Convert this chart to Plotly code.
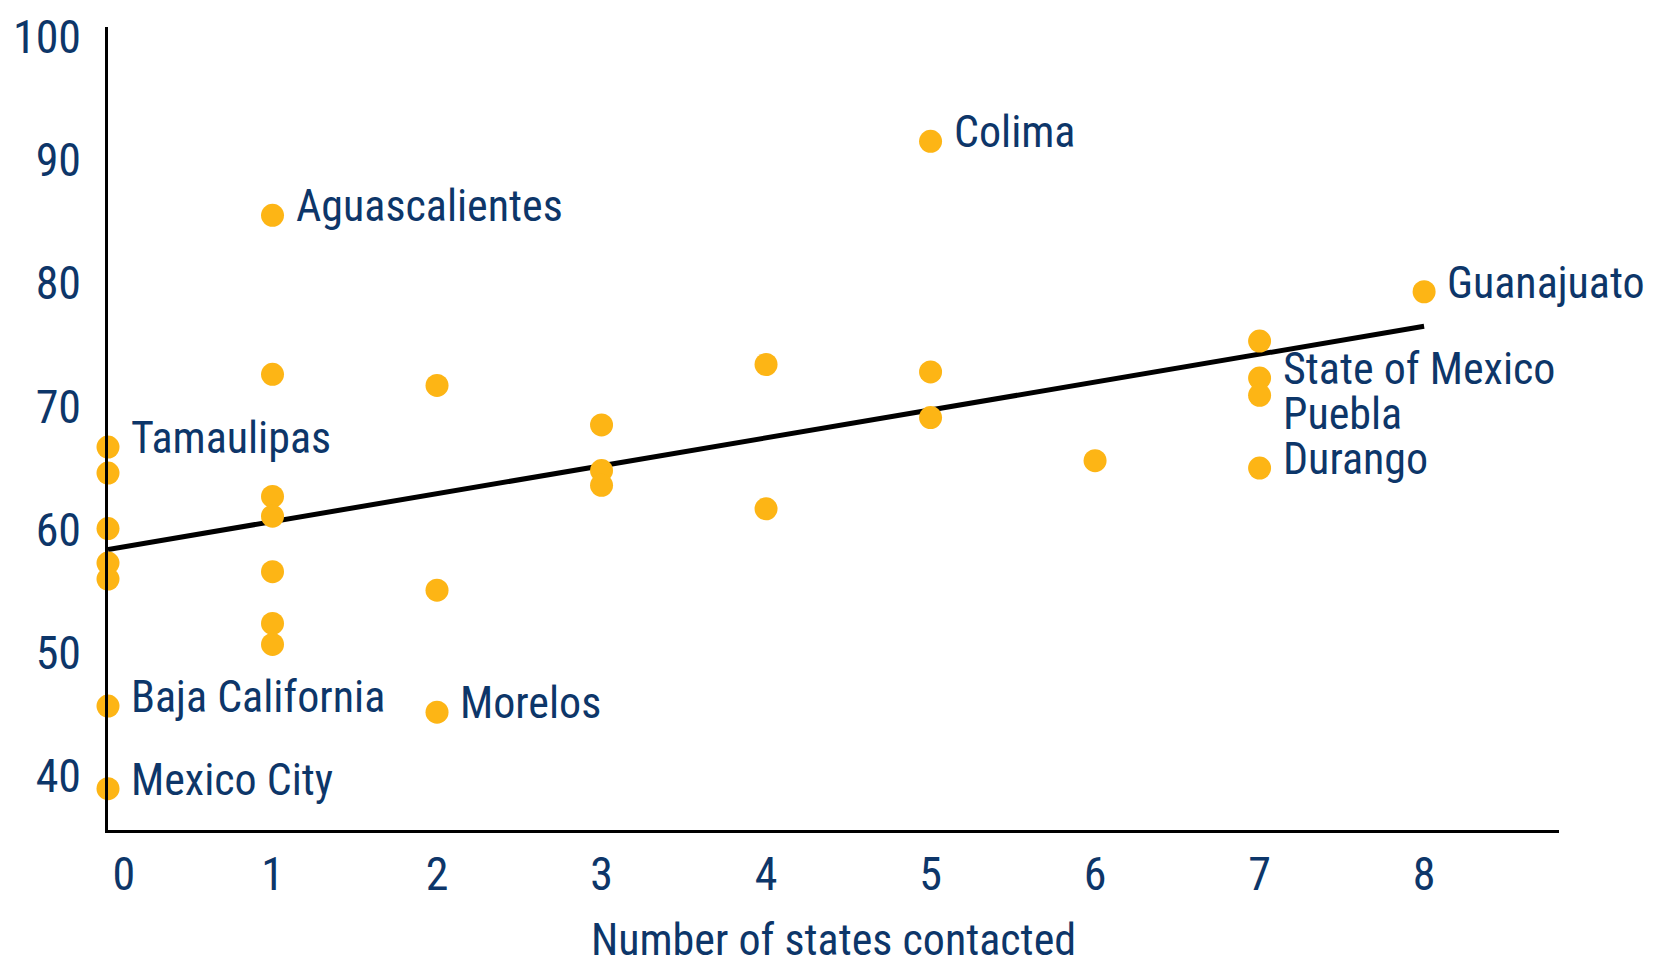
import plotly.graph_objects as go

# ---- data ----
states_x = [0, 0, 0, 0, 0, 0, 0,
            1, 1, 1, 1, 1, 1, 1,
            2, 2, 2,
            3, 3, 3,
            4, 4,
            5, 5, 5,
            6,
            7, 7, 7, 7,
            8]
states_y = [66.7, 64.6, 60.1, 57.3, 56.0, 45.7, 39.0,
            85.5, 72.6, 62.7, 61.1, 56.6, 52.4, 50.7,
            71.7, 55.1, 45.2,
            68.5, 64.8, 63.6,
            73.4, 61.7,
            91.5, 72.8, 69.1,
            65.6,
            75.3, 72.3, 70.9, 65.0,
            79.3]
state_labels = ["Tamaulipas", "", "", "", "", "Baja California", "Mexico City",
                "Aguascalientes", "", "", "", "", "", "",
                "", "", "Morelos",
                "", "", "",
                "", "",
                "Colima", "", "",
                "",
                "", "State of Mexico", "Puebla", "Durango",
                "Guanajuato"]
label_dy = {"Puebla": -19}

trend_x = [0, 8]
trend_y = [58.4, 76.5]

x_ticks = [0, 1, 2, 3, 4, 5, 6, 7, 8]
x_ticktext = ["\u00a0\u00a0\u00a00", "1", "2", "3", "4", "5", "6", "7", "8"]
y_ticks = [40, 50, 60, 70, 80, 90, 100]
x_title = "Number of states contacted"

NAVY = "#0d3669"
ORANGE = "#fdb515"
FAMILY = "Roboto Condensed, Open Sans Condensed, DejaVu Sans Condensed, sans-serif"
SIZE = 44


def fnt(size=SIZE):
    return dict(family=FAMILY, size=size, color=NAVY)


fig = go.Figure()
fig.add_trace(go.Scatter(x=trend_x, y=trend_y, mode="lines",
                         line=dict(color="black", width=5), hoverinfo="skip"))
fig.add_trace(go.Scatter(x=states_x, y=states_y, mode="markers",
                         marker=dict(color=ORANGE, size=23, line=dict(width=0)),
                         cliponaxis=False))

for xv, yv, lab in zip(states_x, states_y, state_labels):
    if lab:
        fig.add_annotation(x=xv, y=yv, text=lab, showarrow=False,
                           xanchor="left", yanchor="middle",
                           xshift=21, yshift=label_dy.get(lab, 9),
                           font=fnt())

fig.update_layout(
    width=1656, height=958,
    margin=dict(l=100, r=105, t=19, b=136),
    paper_bgcolor="white", plot_bgcolor="white",
    showlegend=False,
    font=fnt(),
    xaxis=dict(range=[0, 8.82], tickvals=x_ticks, ticktext=x_ticktext,
               showgrid=False, zeroline=False, showline=True,
               linecolor="black", linewidth=3, ticks="",
               ticklabelstandoff=2, automargin=False,
               title=dict(text=x_title, standoff=52, font=fnt()),
               tickfont=fnt(46)),
    yaxis=dict(range=[35.65, 100.77], tickvals=y_ticks,
               showgrid=False, zeroline=False, showline=True,
               linecolor="black", linewidth=2.5, ticks="",
               ticklabelstandoff=15, automargin=False,
               tickfont=fnt(46)),
)

fig.write_html("out.html")
